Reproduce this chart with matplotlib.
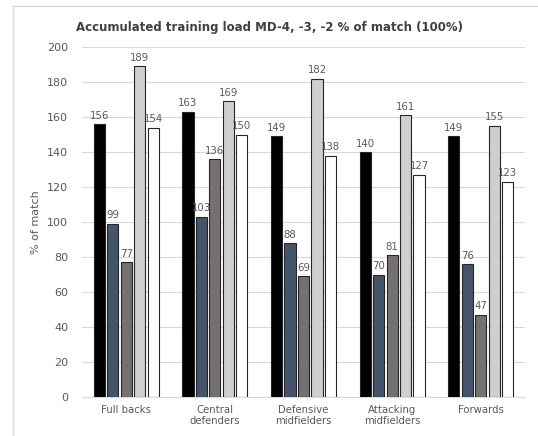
import matplotlib
matplotlib.use("Agg")
import matplotlib.pyplot as plt
import numpy as np
from matplotlib.patches import Rectangle

categories = ["Full backs", "Central\ndefenders", "Defensive\nmidfielders",
              "Attacking\nmidfielders", "Forwards"]
md4 = [156, 163, 149, 140, 149]
md3 = [99, 103, 88, 70, 76]
md2 = [77, 136, 69, 81, 47]
load_a = [189, 169, 182, 161, 155]
load_b = [154, 150, 138, 127, 123]

series = [md4, md3, md2, load_a, load_b]
colors = ["#000000", "#44546A", "#767171", "#D0CECE", "#FFFFFF"]
yticks = list(range(0, 201, 20))

plt.rcParams["font.family"] = "DejaVu Sans"
fig = plt.figure(figsize=(5.38, 4.36), dpi=100)
fig.patches.append(Rectangle((13 / 538, -0.01), 1.0, 1 - 6 / 436 + 0.01,
                             transform=fig.transFigure, fill=False,
                             edgecolor="#D9D9D9", linewidth=1.0))
ax = fig.add_axes([82 / 538, 39 / 436, 443 / 538, 350 / 436])

x = np.arange(len(categories))
pitch = 0.152
width = 0.125
text_color = "#595959"
for i, (vals, c) in enumerate(zip(series, colors)):
    pos = x + (i - 2) * pitch
    ax.bar(pos, vals, width=width, color=c, edgecolor="#262626",
           linewidth=0.8, zorder=3)
    for px, v in zip(pos, vals):
        ax.text(px, v + 2, str(v), ha="center", va="bottom", fontsize=7.3,
                color=text_color, zorder=4)

ax.set_ylim(0, 200)
ax.set_xlim(-0.5, len(categories) - 0.5)
ax.set_yticks(yticks)
ax.yaxis.grid(True, color="#D9D9D9", linewidth=0.8, zorder=0)
ax.set_xticks(x)
ax.set_xticklabels(categories, fontsize=7.3, color=text_color, linespacing=1.1)
ax.tick_params(axis="y", labelsize=8, labelcolor=text_color, length=0, pad=10)
ax.tick_params(axis="x", length=0, pad=6)
for s in ["top", "right", "left"]:
    ax.spines[s].set_visible(False)
ax.spines["bottom"].set_color("#D9D9D9")
ax.set_ylabel("% of match", fontsize=8, color=text_color, labelpad=4)
fig.text(0.5, 1 - 27 / 436, "Accumulated training load MD-4, -3, -2 % of match (100%)",
         ha="center", va="center", fontsize=8.5, fontweight="bold", color="#404040")

fig.savefig("out.png", dpi=100)
